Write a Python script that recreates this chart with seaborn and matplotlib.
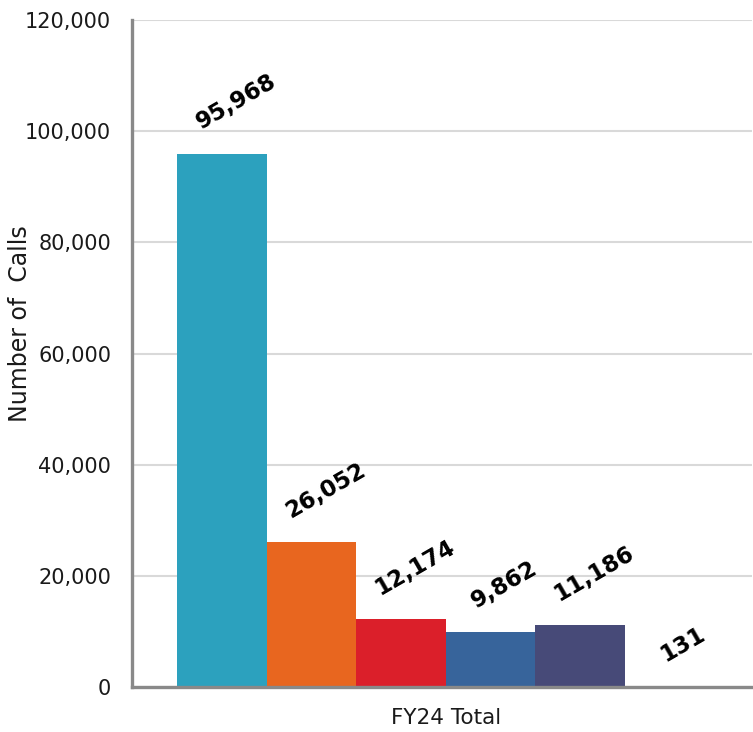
import matplotlib
matplotlib.use("Agg")
import matplotlib.pyplot as plt
import seaborn as sns
import pandas as pd

# Call volumes for the fiscal year, one bar per call type
period = ["FY24 Total"] * 6
call_types = ["Type 1", "Type 2", "Type 3", "Type 4", "Type 5", "Type 6"]
calls = [95968, 26052, 12174, 9862, 11186, 131]
colors = ["#2CA1BE", "#E8661F", "#DB1F2A", "#37649B", "#474A78", "#8C8C8C"]
y_ticks = [0, 20000, 40000, 60000, 80000, 100000, 120000]

df = pd.DataFrame({"period": period, "type": call_types, "calls": calls})

sns.set_theme(style="white")
plt.rcParams["font.family"] = ["DejaVu Sans"]

fig = plt.figure(figsize=(7.53, 7.32), dpi=100)
ax = fig.add_axes([132 / 753, 45 / 732, 620 / 753, 667 / 732])

sns.barplot(data=df, x="period", y="calls", hue="type", palette=colors,
            width=0.866, dodge=True, saturation=1, legend=False,
            linewidth=0, ax=ax)

ax.set_xlim(-0.506, 0.494)
ax.set_ylim(0, 120000)
ax.set_yticks(y_ticks)
ax.set_yticklabels([f"{v:,}" for v in y_ticks], fontsize=15, color="#1a1a1a")
ax.tick_params(axis="y", length=0, pad=15)
ax.tick_params(axis="x", length=0, pad=15, labelsize=15.5, labelcolor="#1a1a1a")
ax.set_xlabel("")
ax.set_ylabel("Number of  Calls", fontsize=17, color="#1a1a1a")
ax.yaxis.set_label_coords(-0.161, 0.545)

ax.yaxis.grid(True, color="#D9D9D9", linewidth=1.5)
ax.set_axisbelow(True)
for side in ["top", "right"]:
    ax.spines[side].set_visible(False)
for side in ["left", "bottom"]:
    ax.spines[side].set_color("#898989")
    ax.spines[side].set_linewidth(2.4)

# Rotated value labels above each bar
for patch, v in zip(ax.patches, calls):
    cx = patch.get_x() + patch.get_width() / 2
    ax.annotate(f"{v:,}", xy=(cx, v), xytext=(10, 14), textcoords="offset points",
                rotation=30, ha="center", va="bottom",
                fontsize=16.5, fontweight="bold", color="black")

fig.savefig("out.png", dpi=100)
